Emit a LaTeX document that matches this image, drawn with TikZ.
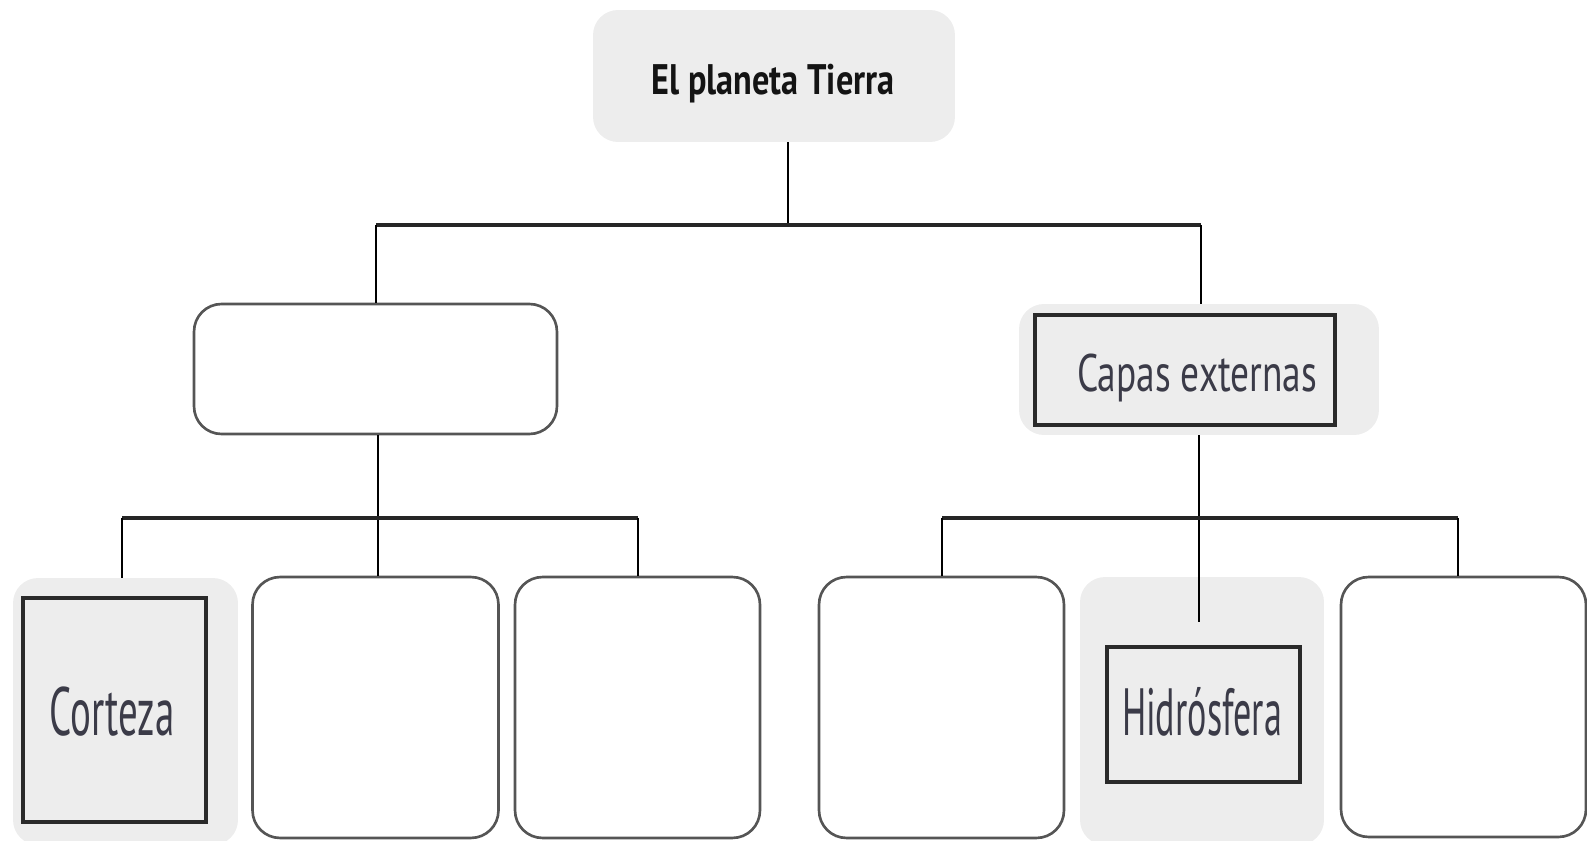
\documentclass[tikz,border=0pt]{standalone}
\usepackage{fontspec}
\usepackage{graphicx}
\setmainfont{PT Sans}
\definecolor{boxgray}{HTML}{EDEDED}
\definecolor{bordergray}{HTML}{555555}
\definecolor{framec}{HTML}{2A2A2A}
\definecolor{txtc}{HTML}{3B3B48}
\tikzset{
  graybox/.style={fill=boxgray, draw=none, rounded corners=0.5cm, inner sep=0pt},
  whitebox/.style={draw=bordergray, line width=1.5pt, fill=white, rounded corners=0.55cm, inner sep=0pt},
  framebox/.style={draw=framec, line width=2pt, fill=none, inner sep=0pt},
  conn/.style={line width=1.4pt, black},
  hbar/.style={line width=2.2pt, black!85},
  lbl/.style={anchor=base, inner sep=0pt, text=txtc},
}
\begin{document}
\begin{tikzpicture}[x=0.02cm, y=-0.02cm]
\useasboundingbox (0,0) rectangle (1587,841);
% top box
\node[graybox, minimum width=7.24cm, minimum height=2.64cm] (T) at (774,76) {};
\node[lbl, text=black!92] (Ttxt) at (773,95) {\resizebox{4.86cm}{\height}{\fontsize{24.3pt}{29pt}\selectfont\bfseries El planeta Tierra}};
% middle boxes
\node[whitebox, minimum width=7.26cm, minimum height=2.6cm] (L) at (375.5,369) {};
\node[graybox, minimum width=7.2cm, minimum height=2.62cm] (R) at (1199,369.5) {};
\node[framebox, minimum width=6.0cm, minimum height=2.2cm] (Ri) at (1185,370) {};
\node[lbl] (Rtxt) at (1197,392) {\resizebox{4.8cm}{\height}{\fontsize{30pt}{36pt}\selectfont Capas externas}};
% bottom boxes
\node[graybox, minimum width=4.5cm, minimum height=5.34cm] (B1) at (125.5,711.5) {};
\node[framebox, minimum width=3.66cm, minimum height=4.48cm] (B1i) at (114.5,710) {};
\node[lbl] (B1txt) at (112,735) {\resizebox{2.5cm}{\height}{\fontsize{38.9pt}{46pt}\selectfont Corteza}};
\node[whitebox, minimum width=4.92cm, minimum height=5.22cm] (B2) at (375.5,707.5) {};
\node[whitebox, minimum width=4.9cm, minimum height=5.22cm] (B3) at (637.5,707.5) {};
\node[whitebox, minimum width=4.9cm, minimum height=5.22cm] (B4) at (941.5,707.5) {};
\node[graybox, minimum width=4.88cm, minimum height=5.36cm] (B5) at (1202,711) {};
\node[framebox, minimum width=3.86cm, minimum height=2.7cm] (B5i) at (1203.5,714.5) {};
\node[lbl] (B5txt) at (1202,735) {\resizebox{3.2cm}{\height}{\fontsize{38pt}{46pt}\selectfont Hidrósfera}};
\node[whitebox, minimum width=4.9cm, minimum height=5.2cm] (B6) at (1463.5,707) {};
% junctions
\coordinate (j0) at (788,225);
\coordinate (jl) at (376,225);
\coordinate (jr) at (1201,225);
\coordinate (k1) at (122,518);
\coordinate (kL) at (378,518);
\coordinate (k3) at (638,518);
\coordinate (k4) at (942,518);
\coordinate (kR) at (1199,518);
\coordinate (k6) at (1458,518);
\coordinate (kend) at (1199,622);
% connectors
\draw[conn] (T.south -| j0) -- (j0);
\draw[hbar] (jl) -- (jr);
\draw[conn] (jl) -- (L.north -| jl);
\draw[conn] (jr) -- (R.north -| jr);
\draw[conn] (L.south -| kL) -- (kL) -- (B2.north -| kL);
\draw[hbar] (k1) -- (k3);
\draw[conn] (k1) -- (B1.north -| k1);
\draw[conn] (k3) -- (B3.north -| k3);
\draw[conn] (R.south -| kR) -- (kR) -- (kend);
\draw[hbar] (k4) -- (k6);
\draw[conn] (k4) -- (B4.north -| k4);
\draw[conn] (k6) -- (B6.north -| k6);
\end{tikzpicture}
\end{document}
